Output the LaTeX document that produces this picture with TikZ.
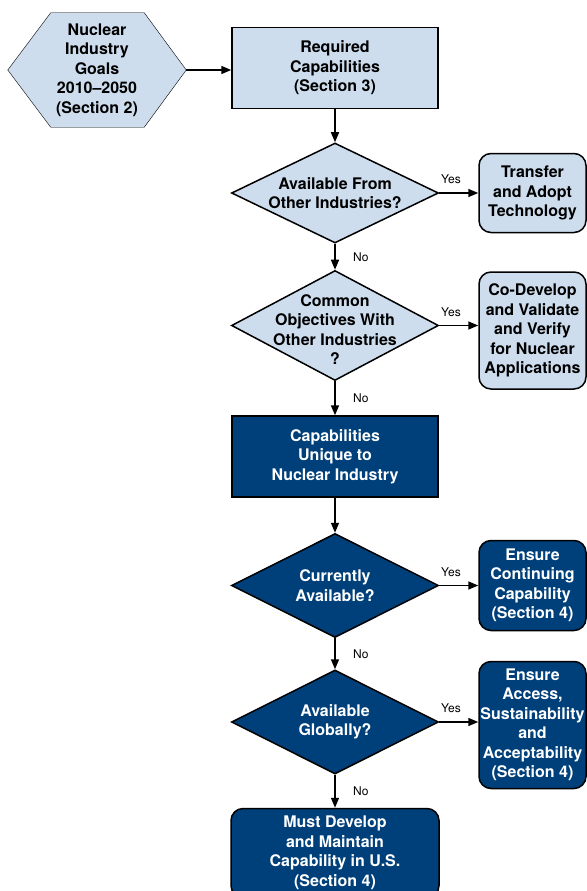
\documentclass[tikz,border=0pt]{standalone}
\usepackage{fontspec}
\setmainfont{TeX Gyre Heros}
\usepackage{xcolor}
\usepackage{tikz}
\usetikzlibrary{shapes.geometric}
\usetikzlibrary{positioning}
\usetikzlibrary{calc}
\usetikzlibrary{backgrounds}
\usetikzlibrary{arrows.meta}
\tikzset{>={Triangle[length=10pt,width=8pt]}}
\definecolor{paleblue}{RGB}{205,221,237}
\definecolor{navy}{RGB}{0,64,122}

\begin{document}
\begin{tikzpicture}
	[x=1pt,y=-1pt,line width=1.5pt,
	font=\fontsize{16}{19.5}\selectfont\bfseries,
	box/.style={rectangle,draw=black,fill=paleblue,align=center,inner sep=0pt,minimum width=206pt,minimum height=81pt},
	hexbox/.style={align=center,inner sep=0pt,minimum width=177pt,minimum height=113pt},
	decision/.style={diamond,draw=black,fill=paleblue,inner sep=0pt,minimum width=207pt,minimum height=#1},
	decision/.default=104pt,
	outcome/.style={rectangle,rounded corners=12pt,draw=black,fill=paleblue,align=center,inner sep=0pt,minimum width=107pt,minimum height=#1},
	dark/.style={fill=navy,text=white},
	every label/.style={align=center},
	yes/.style={above=5pt,pos=0.3,font=\fontsize{12}{14}\selectfont\mdseries},
	no/.style={right=14pt,pos=0.5,font=\fontsize{12}{14}\selectfont\mdseries}]
	\useasboundingbox (0,0) rectangle (586,891);
	% main column
	\node [box] (req) at (335,68) {Required\\Capabilities\\(Section 3)};
	\node [hexbox] (goals) [left=45pt of req,yshift=-2pt] {Nuclear\\Industry\\Goals\\2010--2050\\(Section 2)};
	\node [decision=100pt] (avail) [below=33pt of req,
		label={center:{Available From\\Other Industries?}}] {};
	\node [decision=110pt] (common) [below=26pt of avail,
		label={[yshift=-4pt]center:{Common\\Objectives With\\Other Industries\\?}}] {};
	\node [box,dark] (unique) [below=34pt of common] {Capabilities\\Unique to\\Nuclear Industry};
	\node [decision,dark] (current) [below=35pt of unique,
		label={[text=white]center:{Currently\\Available?}}] {};
	\node [decision,dark] (global) [below=31pt of current,
		label={[text=white]center:{Available\\Globally?}}] {};
	\node [outcome=89pt,dark,minimum width=208pt] (must) [below=33pt of global] {Must Develop\\and Maintain\\Capability in U.S.\\(Section 4)};
	% outcomes on the right
	\node [outcome=79pt] (transfer) [right=39pt of avail] {Transfer\\and Adopt\\Technology};
	\node [outcome=117pt] (codev) [right=39pt of common,yshift=-5pt] {Co-Develop\\and Validate\\and Verify\\for Nuclear\\Applications};
	\node [outcome=90pt,dark] (contin) [right=39pt of current] {Ensure\\Continuing\\Capability\\(Section 4)};
	\node [outcome=127pt,dark] (access) [right=39pt of global,yshift=-3pt] {Ensure\\Access,\\Sustainability\\and\\Acceptability\\(Section 4)};
	% hexagon behind the goals text
	\begin{scope}[on background layer]
		\draw [fill=paleblue] (goals.west) -- ($(goals.north west)+(43,0)$) -- ($(goals.north east)+(-42,0)$)
			-- (goals.east) -- ($(goals.south east)+(-42,0)$) -- ($(goals.south west)+(43,0)$) -- cycle;
	\end{scope}
	% connectors
	\draw[->] (goals.east) -- (goals.east -| req.west);
	\draw[->] (req) -- (avail);
	\draw[->] (avail) -- node [no] {No} (common);
	\draw[->] (common) -- node [no] {No} (unique);
	\draw[->] (unique) -- (current);
	\draw[->] (current) -- node [no] {No} (global);
	\draw[->] (global) -- node [no] {No} (must);
	\draw[->] (avail.east) -- node [yes] {Yes} (avail.east -| transfer.west);
	\draw[->] (common.east) -- node [yes] {Yes} (common.east -| codev.west);
	\draw[->] (current.east) -- node [yes] {Yes} (current.east -| contin.west);
	\draw[->] (global.east) -- node [yes] {Yes} (global.east -| access.west);
\end{tikzpicture}
\end{document}
